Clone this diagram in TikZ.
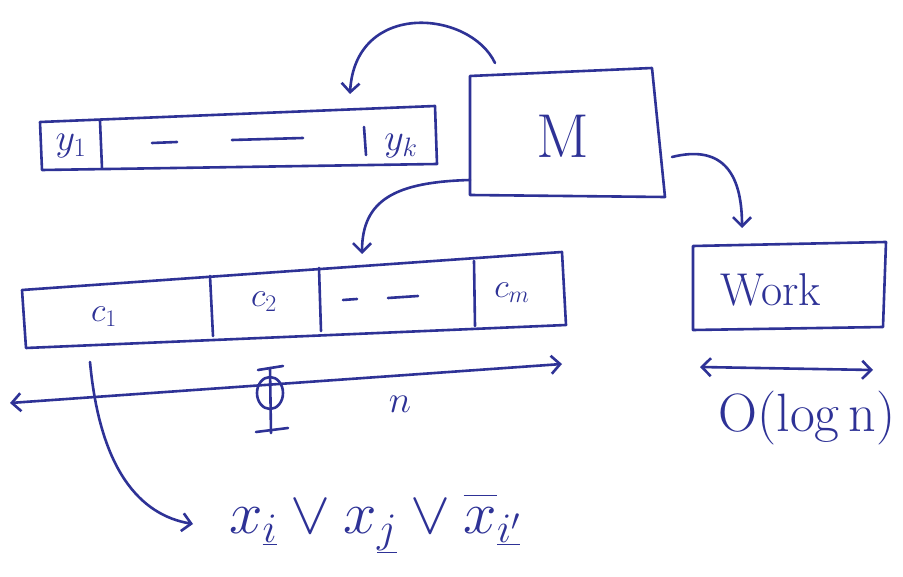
\RequirePackage{fix-cm}
\documentclass[tikz,border=0pt]{standalone}
\usetikzlibrary{arrows.meta}
\definecolor{ink}{RGB}{46,50,150}
\begin{document}
\begin{tikzpicture}[x=1pt,y=-1pt,
  pen/.style={draw=ink,line width=2.6pt,line cap=round,line join=round},
  arr/.style={pen,-{Straight Barb[length=9pt,width=18pt]}},
  darr/.style={pen,{Straight Barb[length=9pt,width=18pt]}-{Straight Barb[length=9pt,width=18pt]}},
  lbl/.style={text=ink,inner sep=0pt}]
\path[use as bounding box,fill=white] (0,0) rectangle (903,577);
% Y array
\coordinate (y1) at (40,122); \coordinate (y2) at (435,106);
\coordinate (y3) at (437,164); \coordinate (y4) at (42,170);
\draw[pen] (y1) -- (y2) -- (y3) -- (y4) -- cycle;
\draw[pen] (100,121) -- (102,168);
\draw[pen] (364,127) -- (366,155);
\draw[pen] (152,143) -- (177,142);
\draw[pen] (232,140) -- (303,138);
\node[lbl,font=\fontsize{38}{38}\selectfont] (ly1) at (71,146) {$y_1$};
\node[lbl,font=\fontsize{38}{38}\selectfont] (lyk) at (401,146) {$y_k$};
% M box
\draw[pen] (470,76) -- (652,68) -- (665,197) -- (470,195) -- cycle;
\node[lbl,font=\fontsize{62}{62}\selectfont] (M) at (563,136) {M};
\coordinate (mtop) at (495,63);
\coordinate (mleft) at (470,180);
\coordinate (mright) at (672,157);
\coordinate (ytgt) at (350,94);
\coordinate (ctgt) at (362,254);
\coordinate (wtgt) at (742,228);
\draw[arr] (mtop) .. controls (470,10) and (355,0) .. (ytgt);
\draw[arr] (mleft) .. controls (395,182) and (362,200) .. (ctgt);
\draw[arr] (mright) .. controls (720,145) and (742,170) .. (wtgt);
% C array
\draw[pen] (22,290) -- (562,252) -- (566,325) -- (26,348) -- cycle;
\draw[pen] (210,276) -- (213,336);
\draw[pen] (319,268) -- (321,331);
\draw[pen] (474,261) -- (475,326);
\node[lbl,font=\fontsize{34}{34}\selectfont] (c1) at (104,317) {$c_1$};
\node[lbl,font=\fontsize{34}{34}\selectfont] (c2) at (264,302) {$c_2$};
\node[lbl,font=\fontsize{34}{34}\selectfont] (cm) at (512,293) {$c_m$};
\draw[pen] (343,300) -- (357,299);
\draw[pen] (388,298) -- (418,296);
% n axis
\coordinate (aL) at (10,403); \coordinate (aR) at (562,364);
\draw[darr] (aL) -- (aR);
\node[lbl,font=\fontsize{38}{38}\selectfont] (n) at (400,404) {$n$};
% Phi
\draw[pen] (270,368) -- (271,433);
\draw[pen] (258,370) -- (283,366);
\draw[pen] (256,432) -- (288,428);
\draw[pen] (270,393) ellipse (13pt and 16pt);
% clause arrow
\coordinate (cs) at (90,362);
\coordinate (ce) at (193,524);
\draw[arr] (cs) .. controls (100,470) and (140,515) .. (ce);
\node[lbl,font=\fontsize{60}{60}\selectfont,anchor=west] (clause) at (229,524)
  {$x_{\underline{i}}\vee x_{\underline{j}}\vee \overline{x\vphantom{t}}_{\underline{i'}}$};
% Work
\draw[pen] (693,246) -- (886,242) -- (883,327) -- (693,330) -- cycle;
\node[lbl,font=\fontsize{46}{46}\selectfont] (work) at (771,290) {Work};
\coordinate (wL) at (700,367); \coordinate (wR) at (873,370);
\draw[darr] (wL) -- (wR);
\node[lbl,font=\fontsize{54}{54}\selectfont] (olog) at (807,418) {O(log\,n)};
\end{tikzpicture}
\end{document}
